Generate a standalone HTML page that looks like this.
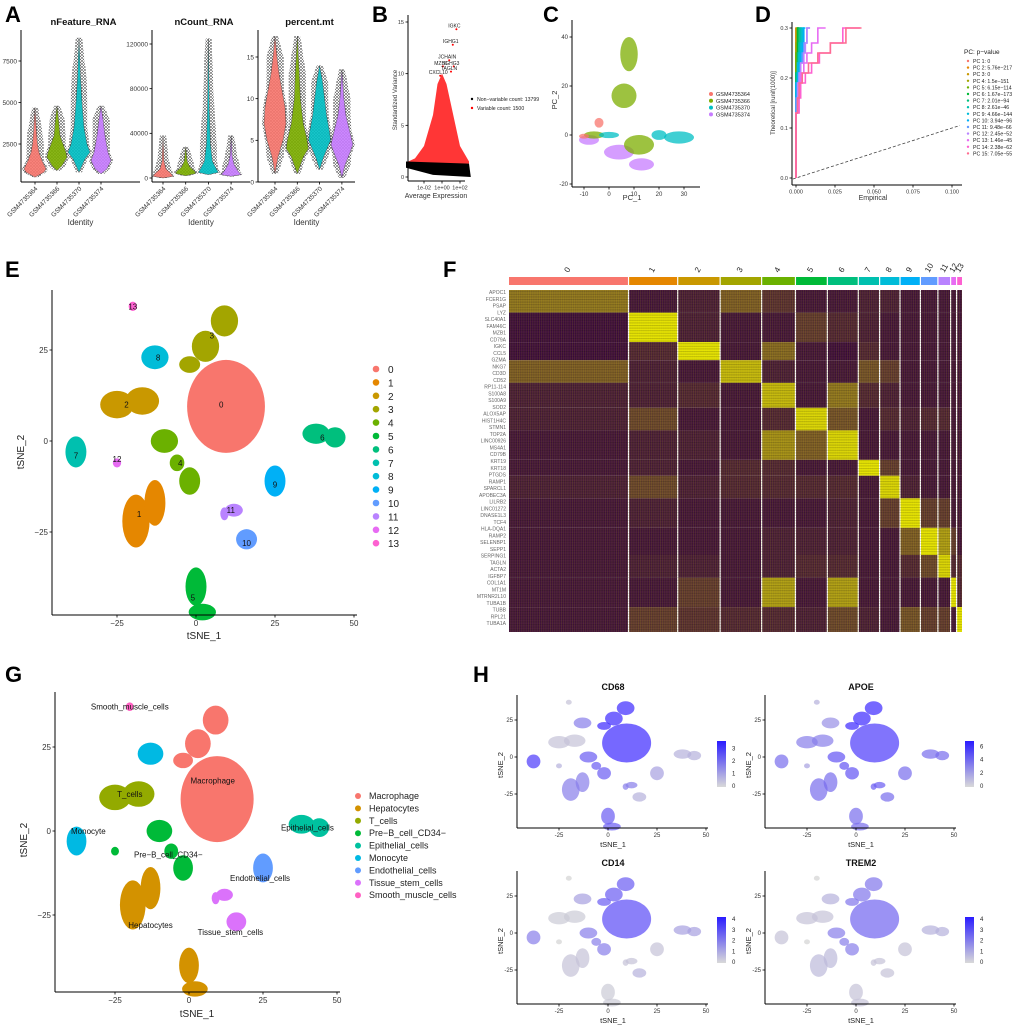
<!DOCTYPE html>
<html><head><meta charset="utf-8">
<style>
html,body{margin:0;padding:0;background:#fff;}
svg{display:block;font-family:"Liberation Sans",sans-serif;}
</style></head>
<body>
<svg id="fig" width="1020" height="1032" viewBox="0 0 1020 1032" xmlns="http://www.w3.org/2000/svg">
<defs>
<pattern id="dots" width="3" height="3" patternUnits="userSpaceOnUse"><rect width="3" height="3" fill="#fff" opacity="0"/><circle cx="1" cy="1" r="0.7" fill="#000"/><circle cx="2.4" cy="2.3" r="0.5" fill="#000"/></pattern>
<pattern id="stripes" width="4" height="2.6" patternUnits="userSpaceOnUse"><rect width="4" height="1" fill="#000" opacity="0.18"/></pattern>
<pattern id="vstripes" width="2.2" height="4" patternUnits="userSpaceOnUse"><rect width="0.7" height="4" fill="#ff0" opacity="0.12"/></pattern>
<linearGradient id="cbar" x1="0" y1="1" x2="0" y2="0"><stop offset="0" stop-color="#d9d9d9"/><stop offset="1" stop-color="#2a1cff"/></linearGradient>
</defs>
</svg>
<script>
// ---------------- DATA ----------------
const violinCats=["GSM4735364","GSM4735366","GSM4735370","GSM4735374"];
const violinColors=["#F8766D","#7CAE00","#00BFC4","#C77CFF"];
const nFeatureShape=[
 [[500,0],[800,9],[1000,11],[1500,7],[2000,4],[2500,2.5],[3200,1.5],[4700,0]],
 [[900,0],[1200,5],[1700,10],[2000,9],[2500,6],[3000,3],[4000,1.5],[4800,0]],
 [[800,0],[1600,6],[2000,11],[2500,8],[3500,5],[5000,3],[6500,1.5],[8900,0]],
 [[700,0],[1000,6],[1500,10],[2000,7],[3000,4],[4000,2],[4800,0]]];
const nCountShape=[
 [[0,0],[1500,10],[4000,8],[8000,3],[15000,1],[38000,0]],
 [[2000,0],[4000,10],[6000,9],[10000,4],[15000,1.5],[28000,0]],
 [[3000,0],[5000,10],[8000,8],[15000,4],[30000,2],[60000,1],[125000,0]],
 [[1500,0],[3000,10],[6000,7],[12000,3],[20000,1],[38000,0]]];
const pctMtShape=[
 [[1,0],[3,3],[5,8],[7,11],[9,10],[11,7],[13,4],[15,2],[17.5,0]],
 [[1,0],[3,6],[4,11],[5,10],[7,6],[10,3],[13,2],[17.5,0]],
 [[1.5,0],[3,4],[5,11],[6,10],[8,7],[10,5],[12,3],[14,0]],
 [[0.5,0],[2,3],[3.5,8],[4.5,11],[6,8],[8,4],[10,2],[13.5,0]]];
const nFeatureTicks=[2500,5000,7500];
const nCountTicks=[0,40000,80000,120000];
const pctMtTicks=[0,5,10,15];

const bLogMean=[-4,-3,-2,-1,-0.5,0,0.5,1,2,3];
const bVarTop=[1.4,1.8,3,6,9,10,9,7,3,1.5];
const bHighlight=[["IGKC",1.6,14.3],["IGHG1",1.2,12.8],["JCHAIN",0.8,11.3],["MZB1",0.1,10.7],["IGHG3",1.3,10.7],["TAGLN",1.0,10.2],["CXCL10",-0.2,9.8]];
const bYTicks=[0,5,10,15];
const bXTicks=[[-2,"1e-02"],[0,"1e+00"],[2,"1e+02"]];

const cBlobs=[
 [3,-8,-2,4,2],[3,4,-7,6,3],[3,13,-12,5,2.5],
 [1,-6,0,4,1.5],[1,8,33,3.5,7],[1,6,16,5,5],[1,12,-4,6,4],
 [2,0,0,4,1.3],[2,28,-1,6,2.5],[2,20,0,3,2],
 [0,-4,5,1.8,2],[0,-10,-0.5,2,1]];
const cXTicks=[-10,0,10,20,30];
const cYTicks=[-20,0,20,40];

const pcLevels=[0,0.13,0.16,0.19,0.21,0.23,0.25,0.27,0.3];
const pcEmp=[
 [0,0,0,0,0,0,0,0,0],[0,0,0,0,0,0,0,0,0.001],[0,0,0,0,0,0,0,0,0],[0,0,0,0,0,0,0,0.001,0.001],[0,0,0,0,0,0,0.001,0.001,0.002],
 [0,0,0,0,0.001,0.001,0.001,0.001,0.002],[0,0,0,0,0.001,0.001,0.002,0.002,0.003],[0,0,0,0.001,0.001,0.002,0.002,0.003,0.004],[0,0,0,0.001,0.001,0.002,0.003,0.004,0.005],[0,0,0,0.001,0.002,0.003,0.004,0.005,0.006],
 [0,0,0.001,0.002,0.003,0.004,0.005,0.007,0.009],[0,0.001,0.001,0.002,0.003,0.005,0.006,0.007,0.009],[0,0.001,0.002,0.003,0.005,0.007,0.01,0.014,0.019],[0,0.002,0.003,0.006,0.01,0.015,0.022,0.03,0.041],[0,0.001,0.002,0.004,0.008,0.014,0.022,0.032,0.042]];
const pcLabels=["PC 1: 0","PC 2: 5.76e−217","PC 3: 0","PC 4: 1.5e−151","PC 5: 6.15e−114","PC 6: 1.67e−173","PC 7: 2.01e−94","PC 8: 2.61e−46","PC 9: 4.66e−144","PC 10: 3.94e−96","PC 11: 9.48e−66","PC 12: 2.45e−52","PC 13: 1.46e−45","PC 14: 2.38e−62","PC 15: 7.05e−55"];
const pcColors=["#F8766D","#E58700","#C99800","#A3A500","#6BB100","#00BA38","#00BF7D","#00C0AF","#00BCD8","#00B0F6","#619CFF","#B983FF","#E76BF3","#FD61D1","#FF6C91"];
const dXTicks=[[0,"0.000"],[0.025,"0.025"],[0.05,"0.050"],[0.075,"0.075"],[0.1,"0.100"]];
const dYTicks=[0,0.1,0.2,0.3];

const clusterColors=["#F8766D","#E58700","#C99800","#A3A500","#6BB100","#00BA38","#00BF7D","#00C0AF","#00BCD8","#00B0F6","#619CFF","#B983FF","#E76BF3","#FD61D1"];
const tsneBlobs=[
 [0,9.5,9.5,12,12.5],
 [3,9,33,4,4],[3,3,26,4,4],[3,-2,21,3,2],
 [8,-13,23,4,3],
 [2,-25,10,5,3.5],[2,-17,11,5,3.5],
 [4,-10,0,4,3],[4,-2,-11,3,3.5],[4,-6,-6,2,2],
 [7,-38,-3,3,4],[12,-25,-6,1,1],[13,-20,37,1,1],
 [1,-19,-22,4,7],[1,-13,-17,3,6],
 [5,0,-40,3,5],[5,2,-47,4,2],
 [6,38,2,4,2.5],[6,44,1,3,2.5],
 [9,25,-11,3,4],[10,16,-27,3,2.5],[11,12,-19,2.5,1.5],[11,9,-20,1,1.5]];
const eLabelPos=[[0,8,10],[1,-18,-20],[2,-22,10],[3,5,29],[4,-5,-6],[5,-1,-43],[6,40,1],[7,-38,-4],[8,-12,23],[9,25,-12],[10,16,-28],[11,11,-19],[12,-25,-5],[13,-20,37]];
const tsneTicks=[-25,0,25,50];

const cellTypes=["Macrophage","Hepatocytes","T_cells","Pre−B_cell_CD34−","Epithelial_cells","Monocyte","Endothelial_cells","Tissue_stem_cells","Smooth_muscle_cells"];
const cellColors=["#F8766D","#D39200","#93AA00","#00BA38","#00C19F","#00B9E3","#619CFF","#DB72FB","#FF61C3"];
const clusterToType=[0,1,2,0,3,1,4,5,5,6,7,7,3,8];
const gLabels=[["Smooth_muscle_cells",-20,37],["Macrophage",8,15],["T_cells",-20,11],["Monocyte",-34,0],["Pre−B_cell_CD34−",-7,-7],["Epithelial_cells",40,1],["Endothelial_cells",24,-14],["Hepatocytes",-13,-28],["Tissue_stem_cells",14,-30]];

const hGenes=["CD68","APOE","CD14","TREM2"];
const hMax=[3.6,6.8,4.2,4.2];
const hTicks=[[0,1,2,3],[0,2,4,6],[0,1,2,3,4],[0,1,2,3,4]];
const hExpr=[
 [1,0.5,0.1,1,0.7,0.7,0.2,0.9,0.5,0.3,0.2,0.5,0.2,0.1],
 [0.9,0.6,0.5,1,0.75,0.6,0.6,0.6,0.4,0.6,0.6,0.7,0.3,0.2],
 [0.8,0.1,0.05,0.7,0.5,0.05,0.3,0.5,0.3,0.1,0.2,0.1,0,0],
 [0.65,0.15,0.1,0.55,0.5,0.1,0.2,0.1,0.2,0.1,0.1,0.1,0,0]];

const hmCellCounts=[124,50,43,42,34,32,31,21,20,20,17,12,5,5];
const hmGeneCounts=[10,13,8,10,11,10,13,7,10,13,12,10,13,11];
const hmMatrix=[
 [0.55,0.1,0.15,0.45,0.25,0.1,0.1,0.15,0.15,0.1,0.1,0.1,0.1,0.1],
 [0.05,0.95,0.15,0.1,0.1,0.3,0.2,0.15,0.1,0.1,0.1,0.1,0.1,0.1],
 [0.05,0.2,0.95,0.1,0.5,0.1,0.05,0.2,0.1,0.1,0.1,0.1,0.1,0.1],
 [0.45,0.15,0.1,0.8,0.15,0.1,0.1,0.4,0.3,0.1,0.1,0.1,0.1,0.1],
 [0.15,0.15,0.2,0.1,0.8,0.1,0.55,0.2,0.15,0.1,0.1,0.1,0.1,0.1],
 [0.15,0.35,0.1,0.1,0.2,0.9,0.4,0.1,0.2,0.15,0.2,0.2,0.1,0.1],
 [0.1,0.15,0.15,0.1,0.65,0.45,0.9,0.1,0.1,0.1,0.1,0.1,0.1,0.1],
 [0.1,0.15,0.1,0.2,0.2,0.1,0.1,0.95,0.3,0.1,0.1,0.1,0.1,0.1],
 [0.15,0.35,0.15,0.2,0.2,0.2,0.2,0.1,0.9,0.15,0.1,0.1,0.1,0.1],
 [0.1,0.15,0.1,0.1,0.1,0.1,0.15,0.1,0.3,0.95,0.3,0.3,0.1,0.1],
 [0.1,0.1,0.1,0.1,0.15,0.15,0.15,0.1,0.1,0.45,0.95,0.7,0.3,0.1],
 [0.1,0.15,0.15,0.1,0.15,0.2,0.2,0.1,0.1,0.2,0.35,0.9,0.2,0.2],
 [0.1,0.1,0.3,0.1,0.7,0.1,0.7,0.1,0.1,0.1,0.1,0.1,0.95,0.2],
 [0.1,0.3,0.25,0.2,0.2,0.15,0.35,0.15,0.1,0.4,0.3,0.3,0.1,0.95]];
const hmGenes=["APOC1","FCER1G","PSAP","LYZ","SLC40A1","FAM46C","MZB1","CD79A","IGKC","CCL5","GZMA","NKG7","CD3D","CD52","RP11-114","S100A8","S100A9","SOD2","ALOX5AP","HIST1H4C","STMN1","TOP2A","LINC00926","MS4A1","CD79B","KRT19","KRT18","PTGDS","RAMP1","SPARCL1","APOBEC3A","LILRB2","LINC01272","DNASE1L3","TCF4","HLA-DQA1","RAMP2","SELENBP1","SEPP1","SERPING1","TAGLN","ACTA2","IGFBP7","COL1A1","MT1M","MTRNR2L10","TUBA1B","TUBB","RPL21","TUBA1A"];

// ---------------- HELPERS ----------------
const NS="http://www.w3.org/2000/svg";
const svg=document.getElementById("fig");
function mk(tag,parent){const e=document.createElementNS(NS,tag);(parent||svg).appendChild(e);return e;}
function set(e,o){for(const k in o)e.setAttribute(k,o[k]);return e;}
function lin(d0,d1,r0,r1){return v=>r0+(v-d0)*(r1-r0)/(d1-d0);}
function txt(parent,s,x,y,size,opts){const t=mk("text",parent);set(t,Object.assign({x:x,y:y,"font-size":size,fill:"#222"},opts||{}));t.textContent=s;return t;}
function line(parent,x1,y1,x2,y2,stroke,w){const l=mk("line",parent);set(l,{x1:x1,y1:y1,x2:x2,y2:y2,stroke:stroke||"#000","stroke-width":w||1});return l;}
function grp(name){const g=mk("g");return g;}
function panelLetter(s,x,y){const t=txt(svg,s,x,y,22,{"font-weight":"bold",fill:"#000"});
 
 }
function axes(g,ax,ay,x1,ytop,xt,yt,fs){
 const ya=line(g,ax,ytop,ax,ay,"#000",1);
 
 
 const xa=line(g,ax,ay,x1,ay,"#000",1);
 
 
 xt.forEach(t=>{line(g,t[0],ay,t[0],ay+2.5,"#000",0.8);
  if(t[1]!==null){const l=txt(g,t[1],t[0],ay+3+fs,fs,{"text-anchor":"middle",fill:"#333"});
  
  }});
 yt.forEach(t=>{line(g,ax-2.5,t[0],ax,t[0],"#000",0.8);
  const l=txt(g,t[1],ax-4,t[0]+fs*0.35,fs,{"text-anchor":"end",fill:"#333"});
  
  });
}

// ---------------- PANEL A ----------------
panelLetter("A",5,22);
const aSubs=[
 {name:"nFeature_RNA",ax:21,x1:140,sc:lin(0,7500,185.5,61),shape:nFeatureShape,ticks:nFeatureTicks,off:14,step:22},
 {name:"nCount_RNA",ax:152,x1:250,sc:lin(0,120000,178,44),shape:nCountShape,ticks:nCountTicks,off:11,step:22.7},
 {name:"percent.mt",ax:258,x1:355,sc:lin(0,15,182,57),shape:pctMtShape,ticks:pctMtTicks,off:17,step:22.3}];
aSubs.forEach((s,si)=>{
 const g=grp("violin-plot-"+s.name.toLowerCase().replace(/[._]/g,"-"));
 const cxs=violinCats.map((c,i)=>s.ax+s.off+i*s.step);
 s.shape.forEach((pts,i)=>{
  const cx=cxs[i];
  const halo=pts.map(p=>[s.sc(p[0]),Math.max(p[1]*1.05+1.5,Math.min(8.5,p[1]*3+3))]);
  let dh="M"+cx+","+halo[0][0];
  halo.forEach(p=>dh+=" L"+(cx+p[1])+","+p[0]);
  for(let k=halo.length-1;k>=0;k--)dh+=" L"+(cx-halo[k][1])+","+halo[k][0];
  const hp=mk("path",g);set(hp,{d:dh+"Z",fill:"url(#dots)"});
  
  
  let d="M"+cx+","+s.sc(pts[0][0]);
  pts.forEach(p=>d+=" L"+(cx+p[1])+","+s.sc(p[0]));
  for(let k=pts.length-1;k>=0;k--)d+=" L"+(cx-pts[k][1])+","+s.sc(pts[k][0]);
  const v=mk("path",g);set(v,{d:d+"Z",fill:violinColors[i],stroke:"#333","stroke-width":0.4,opacity:0.9});
  
  
  const tl=txt(g,violinCats[i],cx+3,189,6.5,{"text-anchor":"end",transform:"rotate(-45 "+(cx+3)+" 189)",fill:"#333"});
  
  
 });
 axes(g,s.ax,182,s.x1,30,cxs.map(c=>[c,null]),s.ticks.map(t=>[s.sc(t),String(t)]),6.5);
 const tt=txt(g,s.name,(s.ax+s.x1)/2+3,25,9.5,{"text-anchor":"middle","font-weight":"bold",fill:"#111"});
 
 
 const it=txt(g,"Identity",(s.ax+s.x1)/2,225,8,{"text-anchor":"middle",fill:"#333"});
 
 
});

// ---------------- PANEL B ----------------
panelLetter("B",372,22);
{
 const g=grp("variable-features-plot");
 const xs=lin(0,2,442,460),ys=lin(0,15,177,22);
 let d="M"+xs(bLogMean[0])+","+ys(1.3);
 bLogMean.forEach((m,i)=>d+=" L"+xs(m)+","+ys(bVarTop[i]));
 d+=" L"+xs(bLogMean[bLogMean.length-1])+","+ys(1.3)+"Z";
 const red=mk("path",g);set(red,{d:d,fill:"#ff2020",opacity:0.9});
 
 
 let db="M"+xs(-4)+","+ys(1.5)+" L"+xs(3)+","+ys(1.3)+" L"+xs(3.2)+","+ys(0)+" L"+xs(-1)+","+ys(0.2)+" L"+xs(-4)+","+ys(0.9)+"Z";
 const blk=mk("path",g);set(blk,{d:db,fill:"#000"});
 
 
 bHighlight.forEach(h=>{
  const c=mk("circle",g);set(c,{cx:xs(h[1]),cy:ys(h[2]),r:1,fill:"#f00"});
  
  
  const t=txt(g,h[0],xs(h[1])-2,ys(h[2])-1.5,5,{"text-anchor":"middle",fill:"#222"});
  
  
 });
 axes(g,408,181,465,15,bXTicks.map(t=>[xs(t[0]),t[1]]),bYTicks.map(t=>[ys(t),String(t)]),5.5);
 const xt=txt(g,"Average Expression",436,198,7,{"text-anchor":"middle",fill:"#333"});
 
 
 const yt=txt(g,"Standardized Variance",397,100,6,{"text-anchor":"middle",transform:"rotate(-90 397 100)",fill:"#333"});
 
 
 const leg=[["Non−variable count: 13799","#000"],["Variable count: 1500","#f00"]];
 leg.forEach((l,i)=>{const c=mk("circle",g);set(c,{cx:472,cy:99+i*9,r:1.2,fill:l[1]});
  
  
  const t=txt(g,l[0],477,101+i*9,5.2,{fill:"#222"});
  
  });
}

// ---------------- PANEL C ----------------
panelLetter("C",543,22);
{
 const g=grp("pca-plot");
 const xs=lin(0,10,609,634),ys=lin(0,20,135,86);
 cBlobs.forEach(b=>{const e=mk("ellipse",g);
  set(e,{cx:xs(b[1]),cy:ys(b[2]),rx:Math.abs(xs(b[3])-xs(0)),ry:Math.abs(ys(b[4])-ys(0)),fill:violinColors[b[0]],opacity:0.75});
  
  });
 axes(g,572,187,700,20,cXTicks.map(t=>[xs(t),String(t)]),cYTicks.map(t=>[ys(t),String(t)]),6);
 const xt=txt(g,"PC_1",632,200,7.5,{"text-anchor":"middle",fill:"#333"});
 
 
 const yt=txt(g,"PC_2",557,100,7.5,{"text-anchor":"middle",transform:"rotate(-90 557 100)",fill:"#333"});
 
 
 violinCats.forEach((c,i)=>{const d=mk("circle",g);set(d,{cx:711,cy:94+i*6.8,r:2,fill:violinColors[i]});
  
  
  const t=txt(g,c,716,96+i*6.8,5.5,{fill:"#222"});
  
  });
}

// ---------------- PANEL D ----------------
panelLetter("D",755,22);
{
 const g=grp("jackstraw-plot");
 const xs=lin(0,0.1,796,952),ys=lin(0,0.3,178,28);
 const dl=mk("line",g);set(dl,{x1:xs(-0.002),y1:ys(-0.002),x2:xs(0.105),y2:ys(0.105),stroke:"#444","stroke-width":0.8,"stroke-dasharray":"3,2"});
 
 
 pcEmp.forEach((arr,i)=>{
  let d="M"+xs(arr[0])+","+ys(pcLevels[0]);
  for(let k=1;k<arr.length;k++){d+=" L"+xs(arr[k-1])+","+ys(pcLevels[k])+" L"+xs(arr[k])+","+ys(pcLevels[k]);}
  const p=mk("path",g);set(p,{d:d,fill:"none",stroke:pcColors[i],"stroke-width":1.6});
  
  
 });
 axes(g,792,185,962,22,dXTicks.map(t=>[xs(t[0]),t[1]]),dYTicks.map(t=>[ys(t),t.toFixed(1)]),5.5);
 const xt=txt(g,"Empirical",873,200,7,{"text-anchor":"middle",fill:"#333"});
 
 
 const yt=txt(g,"Theoretical [runif(1000)]",775,103,6,{"text-anchor":"middle",transform:"rotate(-90 775 103)",fill:"#333"});
 
 
 const lt=txt(g,"PC: p−value",964,54,6.5,{fill:"#222"});
 
 
 pcLabels.forEach((l,i)=>{const c=mk("circle",g);set(c,{cx:968,cy:61+i*6.6,r:1.2,fill:pcColors[i]});
  
  
  const t=txt(g,l,973,63+i*6.6,5.2,{fill:"#222"});
  
  });
}

// ---------------- TSNE helper ----------------
function tsne(g,xs,ys,colorFn,op){
 tsneBlobs.forEach(b=>{const e=mk("ellipse",g);
  set(e,{cx:xs(b[1]),cy:ys(b[2]),rx:Math.abs(xs(b[3])-xs(0))+1,ry:Math.abs(ys(b[4])-ys(0))+1,fill:colorFn(b[0]),opacity:op});
  
  });
}

// ---------------- PANEL E ----------------
panelLetter("E",5,277);
{
 const g=grp("tsne-clusters-plot");
 const xs=lin(0,25,196,275),ys=lin(0,25,441,350);
 tsne(g,xs,ys,c=>clusterColors[c],1);
 eLabelPos.forEach(l=>{const t=txt(g,String(l[0]),xs(l[1]),ys(l[2])+3,8,{"text-anchor":"middle",fill:"#111"});
  
  });
 axes(g,52,615,357,290,tsneTicks.map(t=>[xs(t),t<0?"−"+(-t):String(t)]),[-25,0,25].map(t=>[ys(t),t<0?"−"+(-t):String(t)]),8);
 const xt=txt(g,"tSNE_1",204,639,10,{"text-anchor":"middle",fill:"#222"});
 
 
 const yt=txt(g,"tSNE_2",24,452,10,{"text-anchor":"middle",transform:"rotate(-90 24 452)",fill:"#222"});
 
 
 clusterColors.forEach((c,i)=>{const d=mk("circle",g);set(d,{cx:376,cy:369+i*13.4,r:3.3,fill:c});
  
  
  const t=txt(g,String(i),388,373+i*13.4,10,{fill:"#222"});
  
  });
}

// ---------------- PANEL F ----------------
panelLetter("F",443,277);
{
 const g=grp("marker-heatmap");
 const totalC=hmCellCounts.reduce((a,b)=>a+b,0),totalG=hmGeneCounts.reduce((a,b)=>a+b,0);
 const X0=509,X1=962,Y0=290,Y1=632,gap=1.2;
 const W=X1-X0-gap*(hmCellCounts.length-1);
 function col(t){const a=[60,10,64],b=[240,240,0];const u=Math.pow(Math.max(0,Math.min(1,t)),1.3);
  return "rgb("+a.map((v,k)=>Math.round(v+(b[k]-v)*u)).join(",")+")";}
 let x=X0;
 hmCellCounts.forEach((n,ci)=>{
  const w=W*n/totalC;
  const bar=mk("rect",g);set(bar,{x:x,y:277,width:w,height:8,fill:clusterColors[ci]});
  
  
  const lx=x+w/2;
  const lab=txt(g,String(ci),lx,273,8,{"text-anchor":"start",transform:"rotate(-60 "+lx+" 273)",fill:"#222"});
  
  
  let y=Y0;
  hmGeneCounts.forEach((m,gi)=>{
   const h=(Y1-Y0)*m/totalG;
   const r=mk("rect",g);set(r,{x:x,y:y,width:w,height:h,fill:col(hmMatrix[gi][ci])});
   
   
   y+=h;});
  x+=w+gap;});
 const tex=mk("rect",g);set(tex,{x:X0,y:Y0,width:X1-X0,height:Y1-Y0,fill:"url(#stripes)"});
 
 
 const tex2=mk("rect",g);set(tex2,{x:X0,y:Y0,width:X1-X0,height:Y1-Y0,fill:"url(#vstripes)"});
 
 
 hmGenes.forEach((n,i)=>{const t=txt(g,n,506,Y0+4+i*(Y1-Y0-4)/hmGenes.length,5,{"text-anchor":"end",fill:"#666"});
  
  });
}

// ---------------- PANEL G ----------------
panelLetter("G",5,682);
{
 const g=grp("tsne-celltype-plot");
 const xs=lin(0,25,189,263),ys=lin(0,25,831,747);
 tsne(g,xs,ys,c=>cellColors[clusterToType[c]],1);
 gLabels.forEach(l=>{const t=txt(g,l[0],xs(l[1]),ys(l[2])+3,8,{"text-anchor":"middle",fill:"#111"});
  
  });
 axes(g,55,992,340,692,tsneTicks.map(t=>[xs(t),t<0?"−"+(-t):String(t)]),[-25,0,25].map(t=>[ys(t),t<0?"−"+(-t):String(t)]),8);
 const xt=txt(g,"tSNE_1",197,1017,10,{"text-anchor":"middle",fill:"#222"});
 
 
 const yt=txt(g,"tSNE_2",27,840,10,{"text-anchor":"middle",transform:"rotate(-90 27 840)",fill:"#222"});
 
 
 cellTypes.forEach((c,i)=>{const d=mk("circle",g);set(d,{cx:358,cy:796+i*12.4,r:3,fill:cellColors[i]});
  
  
  const t=txt(g,c,369,799+i*12.4,9,{fill:"#222"});
  
  });
}

// ---------------- PANEL H ----------------
panelLetter("H",473,682);
hGenes.forEach((gene,gi)=>{
 const dx=(gi%2)*248,dy=Math.floor(gi/2)*176;
 const g=grp("feature-plot-"+gene.toLowerCase());
 const xs=lin(0,25,608+dx,657+dx),ys=lin(0,25,757+dy,720+dy);
 function c(cl){const t=hExpr[gi][cl];const a=[211,211,211],b=[60,40,255];
  return "rgb("+a.map((v,k)=>Math.round(v+(b[k]-v)*t)).join(",")+")";}
 tsne(g,xs,ys,c,0.7);
 axes(g,517+dx,828+dy,708+dx,695+dy,tsneTicks.map(t=>[xs(t),String(t)]),[-25,0,25].map(t=>[ys(t),String(t)]),6);
 const tt=txt(g,gene,613+dx,690+dy,9,{"text-anchor":"middle","font-weight":"bold",fill:"#111"});
 
 
 const xt=txt(g,"tSNE_1",613+dx,847+dy,7.5,{"text-anchor":"middle",fill:"#222"});
 
 
 const yx=503+dx,yy=765+dy;
 const yt=txt(g,"tSNE_2",yx,yy,7.5,{"text-anchor":"middle",transform:"rotate(-90 "+yx+" "+yy+")",fill:"#222"});
 
 
 const cb=mk("rect",g);set(cb,{x:717+dx,y:741+dy,width:9,height:46,fill:"url(#cbar)"});
 
 
 const cs=lin(0,hMax[gi],786+dy,741+dy);
 hTicks[gi].forEach(v=>{const t=txt(g,String(v),732+dx,cs(v)+2,6,{fill:"#222"});
  
  });
});
</script>
</body></html>
